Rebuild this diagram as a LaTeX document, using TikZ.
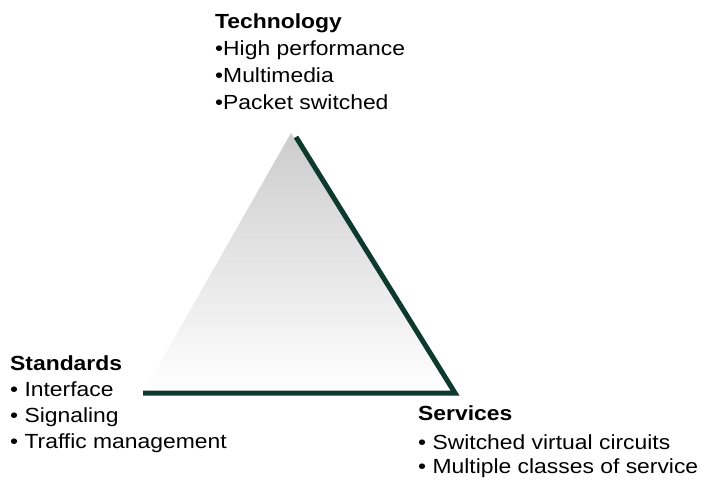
\documentclass[tikz,border=0pt]{standalone}
\usepackage{fontspec}
\setmainfont[FakeStretch=1.12]{Liberation Sans}
\definecolor{edge}{HTML}{0E3A2E}
\begin{document}
\begin{tikzpicture}[x=1bp,y=-1bp,
  lbl/.style={anchor=base west,inner sep=0pt,font=\fontsize{20.5}{24}\selectfont},
  head/.style={lbl,font=\fontsize{20.5}{24}\selectfont\bfseries}]
\useasboundingbox (0,0) rectangle (702,481);
\coordinate (apex) at (291,133);
\coordinate (bl) at (143,393);
\coordinate (br) at (455,393);
\coordinate (top) at (296,137);
\shade[top color=black!20,bottom color=white] (apex) -- (br) -- (bl) -- cycle;
\draw[edge,line width=5bp,miter limit=10] (top) -- (br) -- (bl);
% Technology
\node[head] (tech) at (215,29) {Technology};
\node[lbl] (tech1) at (215,56) {•High performance};
\node[lbl] (tech2) at (215,83) {•Multimedia};
\node[lbl] (tech3) at (215,110) {•Packet switched};
% Standards
\node[head] (std) at (10,370) {Standards};
\node[lbl] (std1) at (10,396) {• Interface};
\node[lbl] (std2) at (10,422) {• Signaling};
\node[lbl] (std3) at (10,448) {• Traffic management};
% Services
\node[head] (srv) at (418,420) {Services};
\node[lbl] (srv1) at (418,449) {• Switched virtual circuits};
\node[lbl] (srv2) at (418,473) {• Multiple classes of service};
\end{tikzpicture}
\end{document}
